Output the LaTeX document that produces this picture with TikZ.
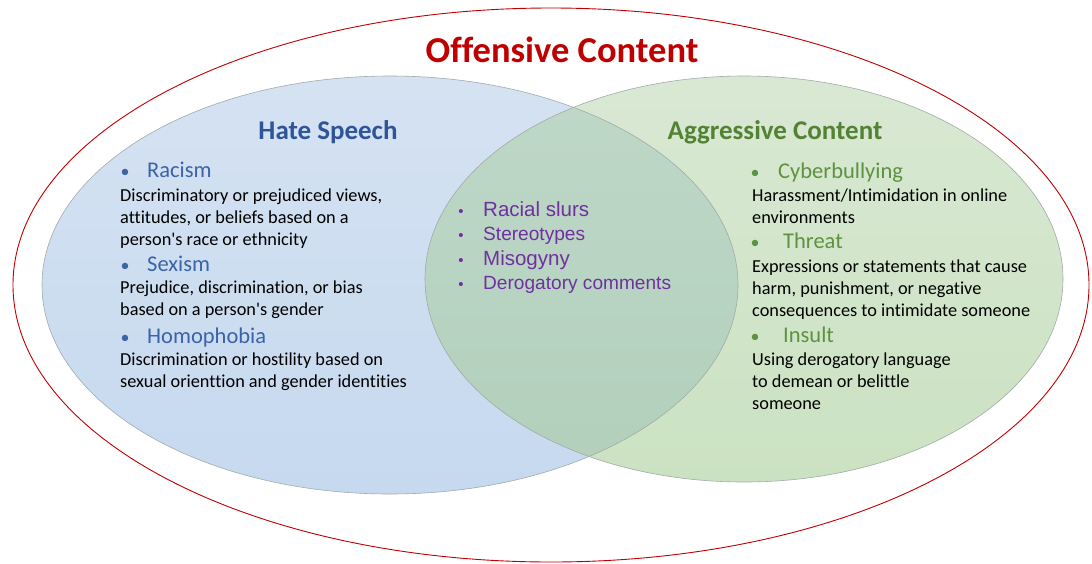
\documentclass[tikz,border=0pt]{standalone}
\usepackage{fontspec}
\usepackage{xcolor}
\usepackage{tikz}
\setmainfont{Carlito}[Ligatures=NoCommon]
\newfontfamily\arialfont{Liberation Sans}
\definecolor{offred}{HTML}{C00000}
\definecolor{hateblue}{HTML}{2F5597}
\definecolor{itemblue}{HTML}{3A63A8}
\definecolor{aggrgreen}{HTML}{548235}
\definecolor{itemgreen}{HTML}{5E9140}
\definecolor{slurpurple}{HTML}{7030A0}
\definecolor{edge}{HTML}{A3AAAA}
\definecolor{hatetop}{HTML}{D5E2F2}
\definecolor{hatebot}{HTML}{C6D9EF}
\definecolor{aggrtop}{HTML}{D9E8D3}
\definecolor{aggrbot}{HTML}{CBE2C2}
\definecolor{bothtop}{HTML}{BFD8C8}
\definecolor{bothbot}{HTML}{B1CFBB}
\tikzset{
  outer/.style={draw=offred, line width=0.9pt},
  rim/.style={draw=edge, line width=0.6pt},
  title/.style={text=offred, font=\fontsize{36.5}{40}\selectfont\bfseries, anchor=base, inner sep=0pt},
  head/.style={font=\fontsize{27}{30}\selectfont\bfseries, anchor=base, inner sep=0pt},
  item/.style={font=\fontsize{22.5}{26}\selectfont, anchor=base west, inner sep=0pt},
  bul/.style={font=\fontsize{18}{20}\selectfont, anchor=base, inner sep=0pt},
  desc/.style={font=\fontsize{18.3}{21.7}\selectfont, anchor=base west, align=left, inner sep=0pt},
  mid/.style={text=slurpurple, font=\arialfont\fontsize{19.1}{22}\selectfont, anchor=base west, inner sep=0pt},
  midbig/.style={mid, font=\arialfont\fontsize{20.5}{24}\selectfont},
}
\begin{document}
\begin{tikzpicture}[x=1pt,y=-1pt]
  \useasboundingbox (0,0) rectangle (1092,563);
  \coordinate (hc) at (390,285);
  \coordinate (ac) at (744,279);
  \coordinate (oc) at (551,285);
  % the two sets and their overlap
  \shade[top color=hatetop, bottom color=hatebot]
    (hc) ellipse [x radius=348pt, y radius=209pt];
  \shade[top color=aggrtop, bottom color=aggrbot]
    (ac) ellipse [x radius=319pt, y radius=203pt];
  \begin{scope}
    \clip (ac) ellipse [x radius=319pt, y radius=203pt];
    \shade[top color=bothtop, bottom color=bothbot]
      (hc) ellipse [x radius=348pt, y radius=209pt];
  \end{scope}
  \draw[rim] (hc) ellipse [x radius=348pt, y radius=209pt];
  \draw[rim] (ac) ellipse [x radius=319pt, y radius=203pt];
  \draw[outer] (oc) ellipse [x radius=538pt, y radius=277pt];

  \node[title] (offensive) at (562,62) {Offensive Content};
  \node[head, text=hateblue] (hate) at (328,139) {Hate Speech};
  \node[head, text=aggrgreen] (aggr) at (775,139) {Aggressive Content};

  \foreach \n/\t/\y in {racism/Racism/177,sexism/Sexism/271,homo/Homophobia/343}{
    \node[bul, text=itemblue] (\n-b) at (125,\y) {\textbullet};
    \node[item, text=itemblue] (\n) at (147,\y) {\t};
  }
  % base sits on the last line
  \node[desc] (racism-d) at (120,245) {Discriminatory or prejudiced views,\\attitudes, or beliefs based on a\\person\textquotesingle s race or ethnicity};
  \node[desc] (sexism-d) at (120,315) {Prejudice, discrimination, or bias\\based on a person\textquotesingle s gender};
  \node[desc] (homo-d) at (120,387) {Discrimination or hostility based on\\sexual orienttion and gender identities};

  \foreach \n/\t/\x/\y in {cyber/Cyberbullying/778/178,threat/Threat/783/248,insult/Insult/783/342}{
    \node[bul, text=itemgreen] (\n-b) at (755,\y) {\textbullet};
    \node[item, text=itemgreen] (\n) at (\x,\y) {\t};
  }
  \node[desc] (cyber-d) at (752,223) {Harassment/Intimidation in online\\environments};
  \node[desc] (threat-d) at (752,316) {Expressions or statements that cause\\harm, punishment, or negative\\consequences to intimidate someone};
  \node[desc] (insult-d) at (752,409) {Using derogatory language\\to demean or belittle\\someone};

  \foreach \n/\t/\s/\y in {slurs/Racial slurs/midbig/216,stereo/Stereotypes/mid/240,miso/Misogyny/midbig/265,derog/Derogatory comments/mid/289}{
    \node[mid, anchor=base, font=\arialfont\fontsize{15}{16}\selectfont] (\n-b) at (461,\y) {\textbullet};
    \node[\s] (\n) at (483,\y) {\t};
  }
\end{tikzpicture}
\end{document}
